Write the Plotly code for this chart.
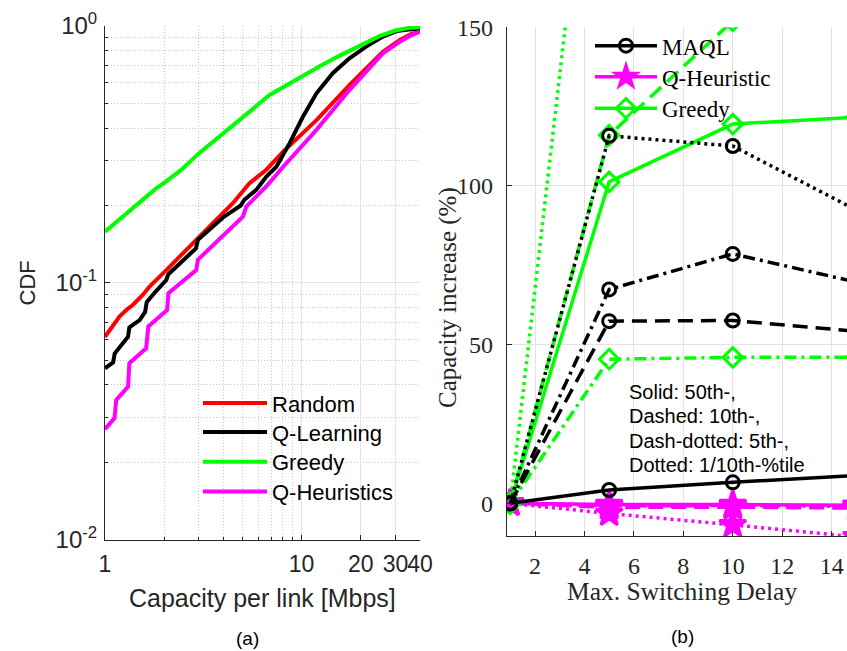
import plotly.graph_objects as go

W, H = 847, 651

# ---------------- Panel (a): CDF data ----------------
rand_x = [1.00, 1.05, 1.10, 1.185, 1.30, 1.385, 1.556, 1.685, 2.05, 2.50, 3.02, 3.60, 4.47, 5.43, 6.60, 8.06, 11.9, 17.5, 25.9, 31.6, 36.0, 40.0]
rand_y = [0.0616, 0.0650, 0.0690, 0.0738, 0.0790, 0.0819, 0.0896, 0.0966, 0.1120, 0.1300, 0.1510, 0.1730, 0.2040, 0.2440, 0.2750, 0.3240, 0.4300, 0.5890, 0.7940, 0.8820, 0.9300, 0.9500]

ql_x = [1.00, 1.10, 1.12, 1.25, 1.31, 1.33, 1.50, 1.60, 1.63, 1.80, 2.05, 2.10, 2.50, 2.90, 2.97, 3.50, 4.00, 4.90, 5.10, 5.88, 6.62, 7.44, 8.68, 10.15, 11.9, 14.4, 17.5, 21.3, 25.9, 30.4, 35.0, 40.0]
ql_y = [0.0464, 0.0490, 0.0530, 0.0590, 0.0616, 0.0670, 0.0716, 0.0770, 0.0840, 0.0920, 0.1025, 0.1080, 0.1220, 0.1360, 0.1470, 0.1640, 0.1800, 0.2000, 0.2100, 0.2300, 0.2590, 0.2830, 0.3490, 0.4430, 0.5470, 0.6550, 0.7490, 0.8310, 0.9090, 0.9550, 0.9700, 0.9750]

gr_x = [1.0, 1.2, 1.5, 1.82, 2.0, 2.44, 3.0, 4.0, 5.0, 5.44, 6.87, 8.0, 10.0, 12.5, 15.0, 20.0, 25.0, 30.0, 35.0, 40.0]
gr_y = [0.158, 0.178, 0.206, 0.233, 0.245, 0.275, 0.319, 0.381, 0.439, 0.464, 0.539, 0.577, 0.635, 0.700, 0.755, 0.845, 0.915, 0.960, 0.982, 0.990]

qh_x = [1.00, 1.118, 1.14, 1.31, 1.33, 1.62, 1.66, 2.07, 2.10, 2.91, 2.97, 4.00, 5.03, 5.23, 6.60, 8.06, 11.9, 17.5, 25.9, 31.6, 36.0, 40.0]
qh_y = [0.0269, 0.0297, 0.0349, 0.0394, 0.0486, 0.0556, 0.0675, 0.0783, 0.0910, 0.1120, 0.1230, 0.1530, 0.1810, 0.1980, 0.2370, 0.2830, 0.3940, 0.5630, 0.7830, 0.8690, 0.9200, 0.9500]

cdf_names = ["Random", "Q-Learning", "Greedy", "Q-Heuristics"]
cdf_colors = ["#FF0000", "#000000", "#00FF00", "#FF00FF"]

# ---------------- Panel (b): capacity increase data ----------------
delay = [1, 5, 10, 15]
maql_p50 = [0, 4.2, 6.6, 8.8]
maql_p10 = [0, 57.4, 57.6, 54.2]
maql_p5 = [0, 67.4, 78.6, 69.7]
maql_p01 = [0, 115.8, 112.6, 92.4]

qh_p50 = [0, -0.4, -0.4, -0.6]
qh_p10 = [0, -1.3, -1.2, -1.5]
qh_p5 = [0, -0.8, -0.7, -1.0]
qh_p01 = [0, -3.2, -6.8, -10.6]

gre_p50 = [0, 101.3, 119.5, 121.7]
gre_p10 = [0, 116.0, 152.0, 165.0]
gre_p5 = [0, 45.4, 46.0, 46.0]
gre_p01 = [0, 270.0, 300.0, 310.0]

x_ticks_a = [1, 10, 20, 30, 40]
y_ticks_a = [0.01, 0.1, 1]
y_ticktext_a = ["10<sup>-2</sup>", "10<sup>-1</sup>", "10<sup>0</sup>"]
x_minor_a = [2, 3, 4, 5, 6, 7, 8, 9]
y_minor_a = [0.02, 0.03, 0.04, 0.05, 0.06, 0.07, 0.08, 0.09, 0.2, 0.3, 0.4, 0.5, 0.6, 0.7, 0.8, 0.9]
x_ticks_b = [2, 4, 6, 8, 10, 12, 14]
y_ticks_b = [0, 50, 100, 150]

GRID = "#E3E3E3"
MINOR = "#C4C4C4"
AX = "#262626"
sans = "Liberation Sans"
serif = "Liberation Serif"

fig = go.Figure()
layout_legends = {}

left_rows = [403.3, 432.3, 462.0, 491.7]
for i, (name, col, xs, ys) in enumerate(zip(cdf_names, cdf_colors, [rand_x, ql_x, gr_x, qh_x], [rand_y, ql_y, gr_y, qh_y])):
    lg = "legend" if i == 0 else "legend%d" % (i + 1)
    fig.add_trace(go.Scatter(x=xs, y=ys, mode="lines", name=name,
                             line=dict(color=col, width=4),
                             xaxis="x", yaxis="y", legend=lg))
    layout_legends[lg] = dict(x=198 / W, y=1 - left_rows[i] / H, xanchor="left", yanchor="middle",
                              bgcolor="rgba(0,0,0,0)", borderwidth=0, itemwidth=64,
                              font=dict(family=sans, size=22, color="#000000"))

DASH = "15px,8px"
DASHDOT = "12px,5px,3px,5px"
DOT = "3px,4px"

right_rows = {"MAQL": 45.7, "Q-Heuristic": 76.7, "Greedy": 108.3}
series_b = [
    ("Q-Heuristic", "#FF00FF", "star", 20, [qh_p50, qh_p10, qh_p5, qh_p01], "legend6"),
    ("Greedy", "#00FF00", "diamond-open", 15, [gre_p50, gre_p10, gre_p5, gre_p01], "legend7"),
    ("MAQL", "#000000", "circle-open", 13, [maql_p50, maql_p10, maql_p5, maql_p01], "legend5"),
]
styles = ["solid", DASH, DASHDOT, DOT]
for name, col, sym, ms, data, lg in series_b:
    for k, (vals, st) in enumerate(zip(data, styles)):
        fig.add_trace(go.Scatter(
            x=delay, y=vals, mode="lines+markers", name=name,
            showlegend=(k == 0),
            line=dict(color=col, width=3.5, dash=st),
            marker=dict(symbol=sym, size=ms, color=col, line=dict(color=col, width=3)),
            xaxis="x2", yaxis="y2", legend=lg))
    layout_legends[lg] = dict(x=590 / W, y=1 - right_rows[name] / H, xanchor="left", yanchor="middle",
                              bgcolor="rgba(0,0,0,0)", borderwidth=0, itemwidth=62,
                              font=dict(family=serif, size=23, color="#000000"))

common = dict(ticks="inside", ticklen=5, tickcolor=AX, showline=True, linecolor=AX, linewidth=1,
              showgrid=True, gridcolor=GRID, gridwidth=1, zeroline=False, automargin=False,
              tickangle=0)

minor_style = dict(tickmode="array", ticks="inside", ticklen=3, tickcolor=AX,
                   showgrid=True, gridcolor=MINOR, griddash="1px,2px", gridwidth=1)

fig.update_layout(
    width=W, height=H,
    margin=dict(l=0, r=0, t=0, b=0, autoexpand=False),
    paper_bgcolor="white", plot_bgcolor="white",
    xaxis=dict(domain=[105 / W, 420 / W], type="log", range=[0, 1.60206],
               tickmode="array", tickvals=x_ticks_a, ticktext=[str(v) for v in x_ticks_a],
               tickfont=dict(family=sans, size=23, color=AX), ticklabelstandoff=4,
               minor=dict(tickvals=x_minor_a, **minor_style),
               anchor="y", **common),
    yaxis=dict(domain=[1 - 539.5 / H, 1 - 26 / H], type="log", range=[-2, 0],
               tickmode="array", tickvals=y_ticks_a, ticktext=y_ticktext_a,
               tickfont=dict(family=sans, size=24, color=AX), ticklabelstandoff=2,
               minor=dict(tickvals=y_minor_a, **minor_style),
               anchor="x", **common),
    xaxis2=dict(domain=[506.7 / W, 1.0], range=[0.855, 14.62],
                tickmode="array", tickvals=x_ticks_b, ticklabelstandoff=8,
                tickfont=dict(family=serif, size=24, color=AX), anchor="y2", **common),
    yaxis2=dict(domain=[1 - 536 / H, 1 - 27.3 / H], range=[-10.3, 150],
                tickmode="array", tickvals=y_ticks_b, ticklabelstandoff=8,
                tickfont=dict(family=serif, size=24, color=AX), anchor="x2", **common),
    showlegend=True,
    **layout_legends,
)

ann = []
def add_text(txt, x, y, size, family, angle=0, xanchor="center", color=AX):
    ann.append(dict(text=txt, x=x / W, y=1 - y / H, xref="paper", yref="paper",
                    showarrow=False, textangle=angle, xanchor=xanchor, yanchor="middle",
                    font=dict(family=family, size=size, color=color)))

add_text("CDF", 27.5, 283, 22, sans, angle=-90)
add_text("Capacity per link [Mbps]", 262, 598, 25, sans)
add_text("(a)", 247, 638, 19, sans, color="#000000")
add_text("Capacity increase (%)", 448, 298, 25, serif, angle=-90)
add_text("Max. Switching Delay", 682, 591, 25.5, serif)
add_text("(b)", 682, 636, 19, sans, color="#000000")
info = ["Solid: 50th-,", "Dashed: 10th-,", "Dash-dotted: 5th-,", "Dotted: 1/10th-%tile"]
for i, t in enumerate(info):
    add_text(t, 627, 391.7 + 24.4 * i, 20, sans, xanchor="left", color="#000000")
fig.update_layout(annotations=ann)

fig.write_html("out.html")
